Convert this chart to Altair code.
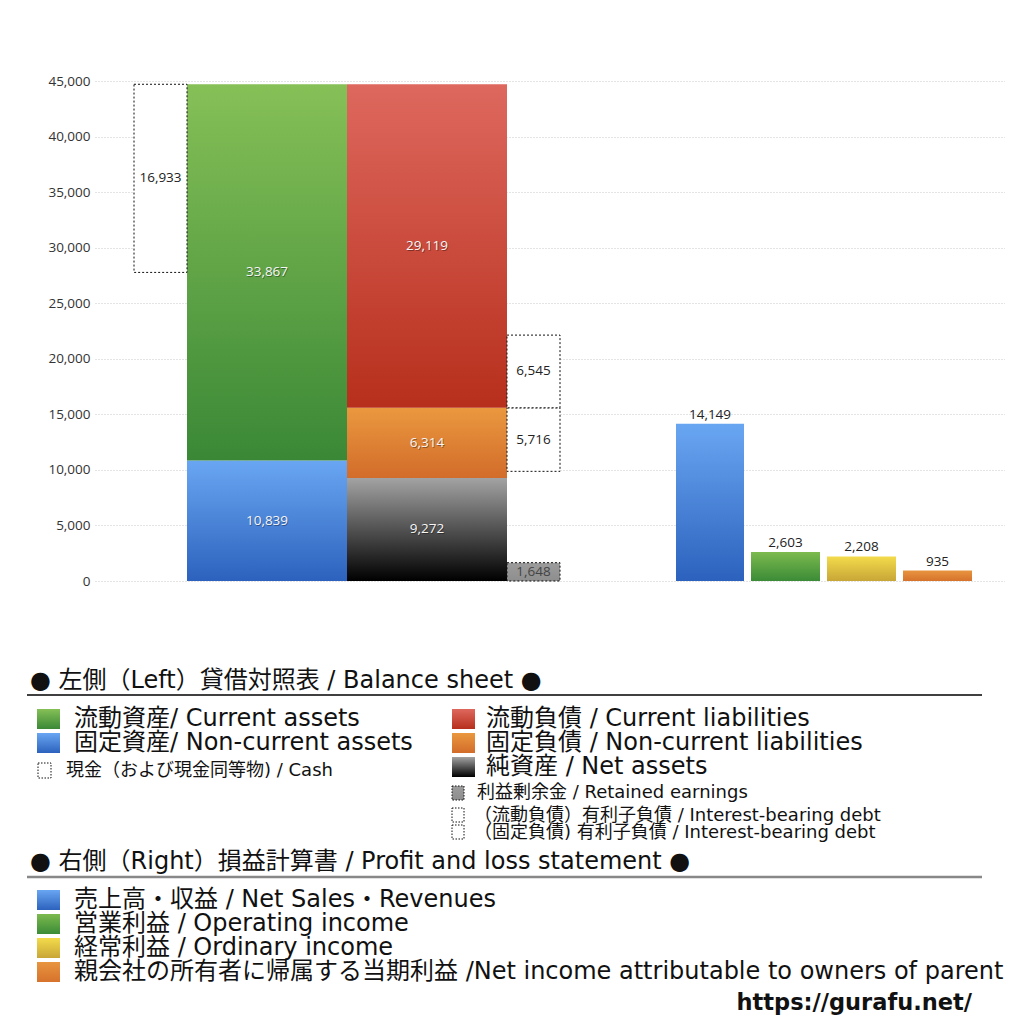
import altair as alt
import pandas as pd

# ---------------- data ----------------
current_assets = 33867
non_current_assets = 10839
cash = 16933
current_liabilities = 29119
non_current_liabilities = 6314
net_assets = 9272
retained_earnings = 1648
ibd_current = 6545
ibd_non_current = 5716

pl_names = ["売上高・収益", "営業利益", "経常利益", "親会社の所有者に帰属する当期利益"]
pl_values = [14149, 2603, 2208, 935]

y_ticks = [0, 5000, 10000, 15000, 20000, 25000, 30000, 35000, 40000, 45000]

# ---------------- styles ----------------
def grad(top, bottom):
    return alt.Gradient(gradient="linear", x1=0, x2=0, y1=0, y2=1,
                        stops=[alt.GradientStop(offset=0, color=top),
                               alt.GradientStop(offset=1, color=bottom)])

G_GREEN = grad("#86c057", "#3a8836")
G_BLUE = grad("#69a6f2", "#2c62bd")
G_RED = grad("#de685e", "#b72f1c")
G_ORANGE = grad("#ea983f", "#d26c2a")
G_BLACK = grad("#a3a3a3", "#000000")
G_YELLOW = grad("#f3db4b", "#c8a637")
G_GRAY = grad("#9c9c9c", "#8e8e8e")

FONT = "Open Sans, Noto Sans CJK JP"
LFONT = "DejaVu Sans, Noto Sans CJK JP"
PW, PH = 910, 500

# layout (x in plot units 0..PW)
COL = {"cash": (39, 92), "assets": (92, 252), "liab": (252, 412), "debt": (412, 465)}
PL_X = [(581, 649), (656, 725), (732, 801), (808, 877)]

total_assets = current_assets + non_current_assets
nc_top = net_assets + non_current_liabilities
liab_top = nc_top + current_liabilities

segs = [
    ("non_current_assets", "assets", 0, non_current_assets, G_BLUE, "solid", non_current_assets),
    ("current_assets", "assets", non_current_assets, total_assets, G_GREEN, "solid", current_assets),
    ("net_assets", "liab", 0, net_assets, G_BLACK, "solid", net_assets),
    ("non_current_liabilities", "liab", net_assets, nc_top, G_ORANGE, "solid", non_current_liabilities),
    ("current_liabilities", "liab", nc_top, liab_top, G_RED, "solid", current_liabilities),
    ("cash", "cash", total_assets - cash, total_assets, "white", "box", cash),
    ("retained", "debt", 0, retained_earnings, G_GRAY, "box", retained_earnings),
    ("ibd_nc", "debt", nc_top - ibd_non_current, nc_top, "white", "box", ibd_non_current),
    ("ibd_c", "debt", nc_top, nc_top + ibd_current, "white", "box", ibd_current),
]

yscale = alt.Scale(domain=[0, 45000], nice=False, zero=True)
xscale = alt.Scale(domain=[0, PW], nice=False, zero=True)
yaxis = alt.Axis(values=y_ticks, labelExpr="format(datum.value, ',')", title=None, domain=False,
                 ticks=False, labelPadding=5, labelFont=FONT, labelFontSize=13.5, labelColor="#333",
                 gridColor="#c8c8c8", gridDash=[1, 2], gridWidth=1,
                 minExtent=87, maxExtent=87)

layers = []
for name, col, y0, y1, fill, kind, val in segs:
    df = pd.DataFrame({"x0": [COL[col][0]], "x1": [COL[col][1]], "y0": [y0], "y1": [y1],
                       "ym": [(y0 + y1) / 2], "label": [f"{val:,}"]})
    if kind == "solid":
        m = alt.Chart(df).mark_rect(fill=fill)
    else:
        m = alt.Chart(df).mark_rect(fill=fill, stroke="#111", strokeDash=[2, 2], strokeWidth=1)
    layers.append(m.encode(x=alt.X("x0:Q", scale=xscale, axis=None), x2="x1",
                           y=alt.Y("y0:Q", scale=yscale, axis=yaxis), y2="y1"))
    base = alt.Chart(df).transform_calculate(xm="(datum.x0 + datum.x1) / 2").encode(
        x=alt.X("xm:Q", scale=xscale, axis=None),
        y=alt.Y("ym:Q", scale=yscale, axis=yaxis), text="label:N")
    if kind == "solid":
        layers.append(base.mark_text(font=FONT, fontSize=13.5, color="#000", opacity=0.35, dx=0.8, dy=0.8))
        layers.append(base.mark_text(font=FONT, fontSize=13.5, color="#f6f6f6"))
    else:
        layers.append(base.mark_text(font=FONT, fontSize=13.5,
                                     color="#444" if name == "retained" else "#222"))

pl_fills = [G_BLUE, grad("#7cba4e", "#3b8b37"), G_YELLOW, grad("#e8953f", "#d6722c")]
for (x0, x1), v, f in zip(PL_X, pl_values, pl_fills):
    df = pd.DataFrame({"x0": [x0], "x1": [x1], "v": [v], "label": [f"{v:,}"]})
    layers.append(alt.Chart(df).mark_rect(fill=f).encode(
        x=alt.X("x0:Q", scale=xscale, axis=None), x2="x1",
        y=alt.Y("v:Q", scale=yscale, axis=yaxis), y2=alt.datum(0)))
    layers.append(alt.Chart(df).transform_calculate(xm="(datum.x0 + datum.x1) / 2").mark_text(
        font=FONT, fontSize=13.5, color="#222", dy=-9).encode(
        x=alt.X("xm:Q", scale=xscale, axis=None),
        y=alt.Y("v:Q", scale=yscale, axis=yaxis), text="label:N"))

top = alt.layer(*layers).properties(width=PW, height=PH)

# ---------------- legend ----------------
OX, OY = 95, 660  # page origin of legend panel (aligned with plot area)

headers = ["● 左側（Left）貸借対照表 / Balance sheet ●",
           "● 右側（Right）損益計算書 / Profit and loss statement ●"]
bs_main_left = ["流動資産/ Current assets", "固定資産/ Non-current assets"]
bs_main_right = ["流動負債 /  Current liabilities", "固定負債 / Non-current liabilities",
                 "純資産 / Net assets"]
cash_label = "現金（および現金同等物) / Cash"
bs_small_right = ["利益剰余金 / Retained earnings",
                  "（流動負債）有利子負債 / Interest-bearing debt",
                  "（固定負債) 有利子負債 / Interest-bearing debt"]
pl_labels = ["売上高・収益 / Net Sales・Revenues", "営業利益 / Operating income",
             "経常利益 / Ordinary income",
             "親会社の所有者に帰属する当期利益 /Net income attributable to owners of parent"]
url = "https://gurafu.net/"

texts = []  # label, x, y, size
texts.append((headers[0], 30, 680, 24))
texts.append((headers[1], 30, 861, 24))
for i, t in enumerate(bs_main_left):
    texts.append((t, 74, 718 + 24 * i, 24))
texts.append((cash_label, 66, 770, 18))
for i, t in enumerate(bs_main_right):
    texts.append((t, 486, 718 + 24 * i, 24))
texts.append((bs_small_right[0], 477, 792, 18))
texts.append((bs_small_right[1], 474, 815, 18))
texts.append((bs_small_right[2], 474, 832, 18))
for i, t in enumerate(pl_labels):
    texts.append((t, 74, 899 + 24 * i, 24))

tdf = pd.DataFrame(texts, columns=["label", "px", "py", "size"])
tdf["x"] = tdf["px"] - OX
tdf["y"] = tdf["py"] - OY

leg_layers = []
for size in sorted(tdf["size"].unique()):
    sub = tdf[tdf["size"] == size]
    leg_layers.append(alt.Chart(sub).mark_text(font=LFONT, fontSize=float(size), align="left",
                                               baseline="middle", color="#111").encode(
        x=alt.X("x:Q", scale=None), y=alt.Y("y:Q", scale=None), text="label:N"))

udf = pd.DataFrame({"label": [url], "x": [972 - OX], "y": [1002 - OY]})
leg_layers.append(alt.Chart(udf).mark_text(font=LFONT, fontSize=22.5, fontWeight="bold", align="right",
                                           baseline="middle", color="#111").encode(
    x=alt.X("x:Q", scale=None), y=alt.Y("y:Q", scale=None), text="label:N"))

# header rules
rules = [(27, 982, 694, "#000", 1.5), (27, 982, 876, "#888", 2.5)]
for x0, x1, y, c, w in rules:
    rdf = pd.DataFrame({"x": [x0 - OX], "x2": [x1 - OX], "y": [y - OY]})
    leg_layers.append(alt.Chart(rdf).mark_rule(color=c, strokeWidth=w).encode(
        x=alt.X("x:Q", scale=None), x2="x2", y=alt.Y("y:Q", scale=None)))

# legend swatches: (fill, x0, y0, x1, y1, dashed)
swatches = [
    (G_GREEN, 37, 708, 60, 728, False),
    (G_BLUE, 37, 732, 60, 752, False),
    ("white", 38, 762, 51, 777, True),
    (G_RED, 452, 708, 475, 728, False),
    (G_ORANGE, 452, 732, 475, 752, False),
    (G_BLACK, 452, 756, 475, 776, False),
    (G_GRAY, 452, 785, 464, 799, True),
    ("white", 452, 807, 464, 821, True),
    ("white", 452, 824, 464, 838, True),
    (G_BLUE, 37, 889, 60, 909, False),
    (pl_fills[1], 37, 913, 60, 933, False),
    (G_YELLOW, 37, 937, 60, 957, False),
    (pl_fills[3], 37, 961, 60, 981, False),
]
for fill, x0, y0, x1, y1, dashed in swatches:
    sdf = pd.DataFrame({"x": [x0 - OX], "x2": [x1 - OX], "y": [y0 - OY], "y2": [y1 - OY]})
    if dashed:
        mk = alt.Chart(sdf).mark_rect(fill=fill, stroke="#111", strokeDash=[1.5, 1.5], strokeWidth=1)
    else:
        mk = alt.Chart(sdf).mark_rect(fill=fill)
    leg_layers.append(mk.encode(x=alt.X("x:Q", scale=None), x2="x2",
                                y=alt.Y("y:Q", scale=None), y2="y2"))

legend = alt.layer(*leg_layers).properties(width=PW, height=356)

chart = alt.vconcat(top, legend, spacing=73).properties(
    padding={"top": 66, "left": 0, "right": 0, "bottom": 0}
).configure_view(stroke=None)

chart.save("out.html", embed_options={"renderer": "svg", "actions": False})
